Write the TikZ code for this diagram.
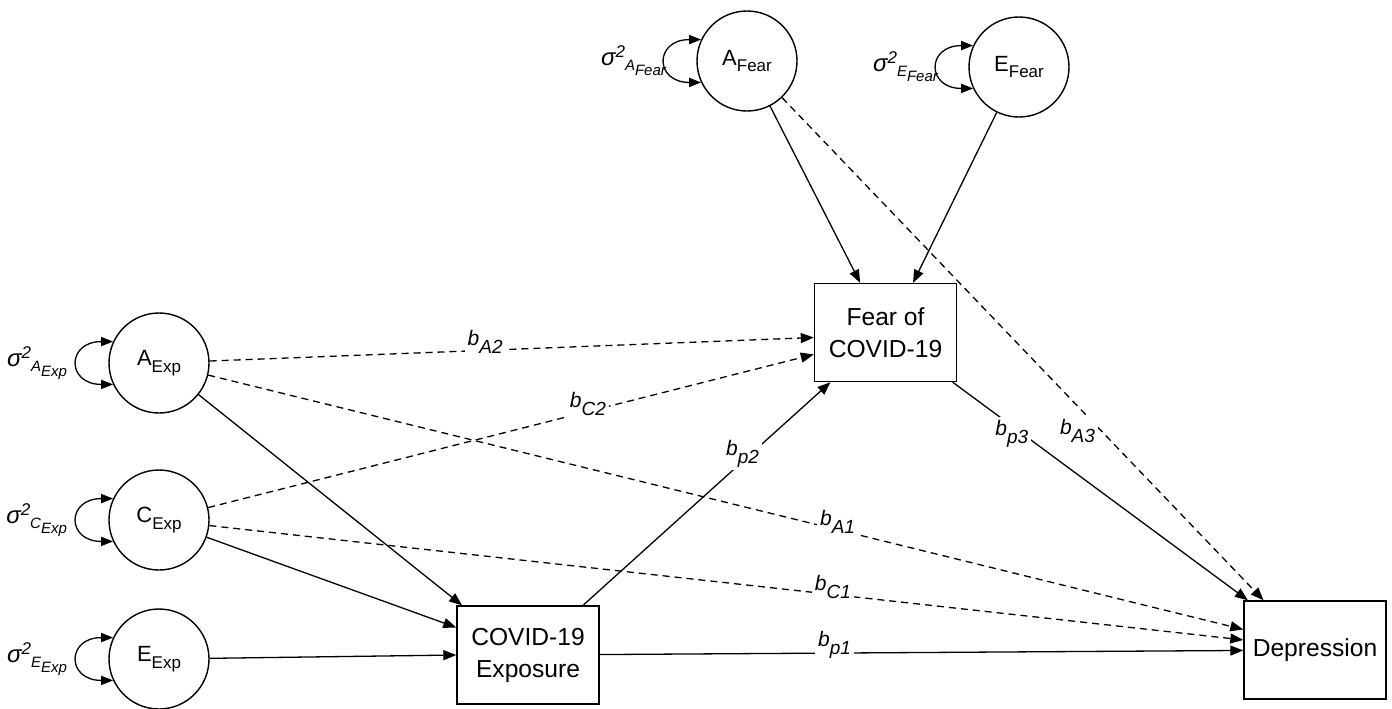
\documentclass[tikz,border=0pt]{standalone}
\usepackage{fontspec}
\setmainfont{Liberation Sans}
\usetikzlibrary{positioning, arrows.meta}
\newcommand{\lsub}[1]{\raisebox{-3.3pt}{\fontsize{8.5}{10}\selectfont #1}}
\newcommand{\bcoef}[1]{b\raisebox{-4pt}{\fontsize{9.5}{11}\selectfont #1}}
\newcommand{\varsym}[2]{σ\raisebox{4pt}{\fontsize{8.5}{10}\selectfont 2}\raisebox{-2.5pt}{\fontsize{7.5}{9}\selectfont #1\raisebox{-2.5pt}{#2}}}
\tikzset{
    latent/.style={circle, draw, line width=0.7pt, minimum size=50pt, inner sep=0pt, font=\fontsize{11}{13}\selectfont},
    observed/.style={rectangle, draw, line width=0.7pt, minimum width=71pt, minimum height=49pt, align=center, font=\fontsize{12.3}{16}\selectfont},
    direct/.style={-{Triangle[length=6.5pt,width=5pt]}, line width=0.65pt},
    cross/.style={direct, dash pattern=on 3.5pt off 2.5pt},
    varloop/.style={{Triangle[length=6pt,width=4.6pt]}-{Triangle[length=6pt,width=4.6pt]}, line width=0.65pt, out=180, in=180, looseness=2.8},
    coef/.style={fill=white, inner sep=1.5pt, yshift=4pt, font=\fontsize{10.5}{12}\selectfont\itshape},
    varlab/.style={inner sep=0pt, font=\fontsize{12}{14}\selectfont\itshape},
}
\begin{document}
\begin{tikzpicture}[x=0.5pt, y=-0.5pt]
    \useasboundingbox (0,0) rectangle (1392,708);
    % latent factors
    \node [latent] (afear) at (747,61) {A\lsub{Fear}};
    \node [latent] (efear) at (1019,67) {E\lsub{Fear}};
    \node [latent] (aexp) at (159,363) {A\lsub{Exp}};
    \node [latent] (cexp) at (159,520) {C\lsub{Exp}};
    \node [latent] (eexp) at (159,659) {E\lsub{Exp}};
    % observed measures
    \node [observed] (fear) at (885.5,332.5) {Fear of\\COVID-19};
    \node [observed] (expo) at (528,655) {COVID-19\\Exposure};
    \node [observed] (dep) at (1315,650) {Depression};
    % variances
    \node [varlab, left=15pt of afear] (vafear) {\varsym{A}{Fear}};
    \node [varlab, left=15pt of efear] (vefear) {\varsym{E}{Fear}};
    \node [varlab, left=20.5pt of aexp] (vaexp) {\varsym{A}{Exp}};
    \node [varlab, left=20.5pt of cexp] (vcexp) {\varsym{C}{Exp}};
    \node [varlab, left=20.5pt of eexp] (veexp) {\varsym{E}{Exp}};
    \draw [varloop] (afear.155) to (afear.205);
    \draw [varloop] (efear.155) to (efear.205);
    \draw [varloop] (aexp.155) to (aexp.205);
    \draw [varloop] (cexp.155) to (cexp.205);
    \draw [varloop] (eexp.155) to (eexp.205);
    % paths
    \draw [direct] (afear) -- (fear.117);
    \draw [direct] (efear) -- (fear.61);
    \draw [direct] (aexp) -- (expo.143);
    \draw [direct] (cexp) -- (expo.159);
    \draw [direct] (eexp) -- (expo.west);
    \draw [direct] (expo) -- node [coef, pos=0.645] {\bcoef{p2}} (fear);
    \draw [direct] (fear) -- node [coef, pos=0.2, yshift=-8pt] {\bcoef{p3}} (dep);
    \draw [direct] (expo) -- node [coef, pos=0.365] {\bcoef{p1}} (dep);
    \draw [cross] (aexp) -- node [coef, pos=0.456] {\bcoef{A2}} (fear.184);
    \draw [cross] (cexp) -- node [coef, pos=0.627] {\bcoef{C2}} (fear.197);
    \draw [cross] (aexp) -- node [coef, pos=0.608] {\bcoef{A1}} (dep.164);
    \draw [cross] (cexp) -- node [coef, pos=0.603] {\bcoef{C1}} (dep.172);
    \draw [cross] (afear) -- node [coef, pos=0.68, xshift=-16pt] {\bcoef{A3}} (dep.136);
\end{tikzpicture}
\end{document}
